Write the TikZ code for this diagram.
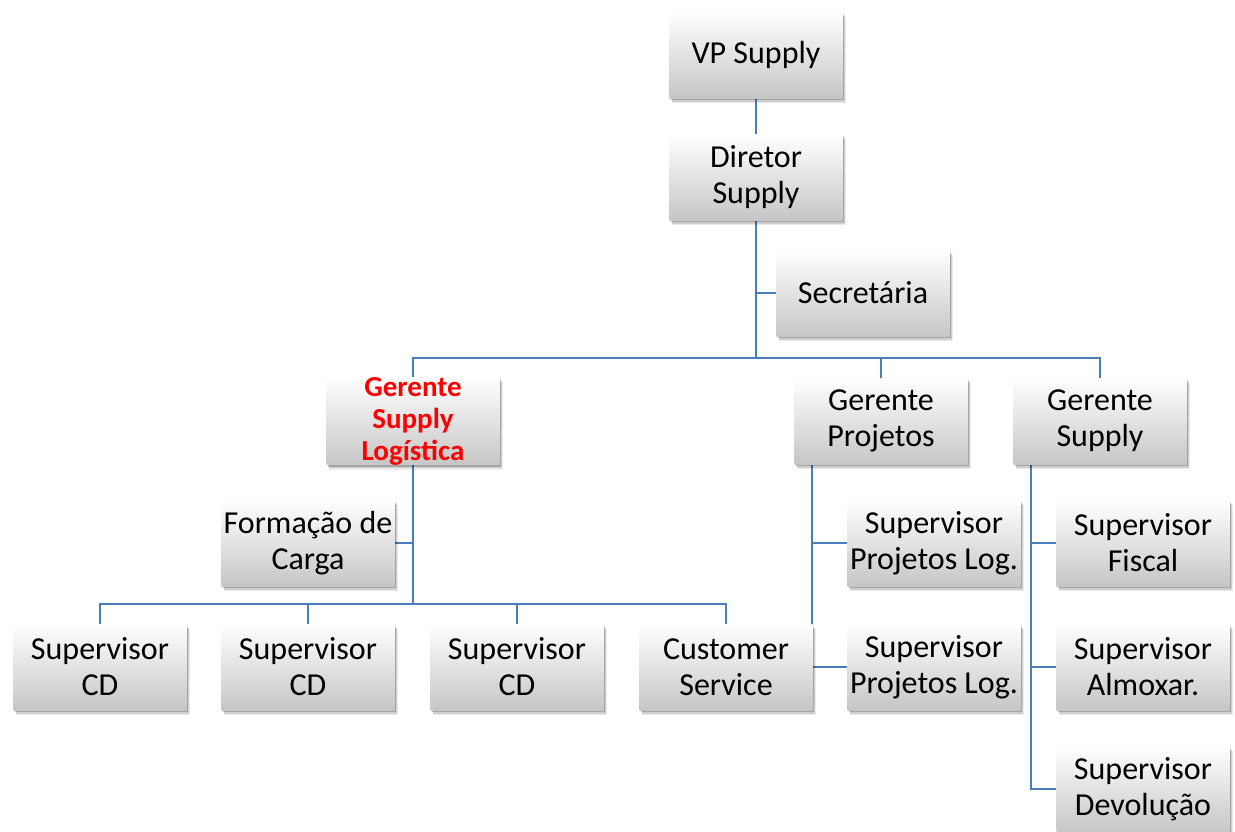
\documentclass[tikz,border=0pt]{standalone}
\usepackage{fontspec}
\setmainfont{Carlito}
\usetikzlibrary{shadows}
\pgfdeclarelayer{background}
\pgfsetlayers{background,main}
\definecolor{linkblue}{HTML}{4A7EBB}
\definecolor{boxgrey}{HTML}{C6C6C6}
\tikzset{
  orgbox/.style={rectangle, minimum width=173pt, minimum height=86pt, inner sep=0pt,
    top color=white, bottom color=boxgrey, align=center,
    font=\fontsize{32}{36}\selectfont,
    general shadow={shadow xshift=3pt, shadow yshift=-5pt, opacity=0.08, fill=black, shadow scale=1.01},
    general shadow={shadow xshift=2pt, shadow yshift=-3.5pt, opacity=0.12, fill=black},
    general shadow={shadow xshift=1.5pt, shadow yshift=-2pt, opacity=0.2, fill=black}},
  hilite/.style={text=red, font=\fontsize{29}{32}\selectfont\bfseries},
  link/.style={draw=linkblue, line width=1.8pt}
}
\begin{document}
\begin{tikzpicture}[x=1pt,y=-1pt]
\useasboundingbox (0,0) rectangle (1235,831);
\node[orgbox] (vp) at (756,55) {VP Supply};
\node[orgbox] (dir) at (756,177) {Diretor\\Supply};
\node[orgbox] (sec) at (863,293) {Secretária};
\node[orgbox, hilite] (glog) at (413,421) {Gerente\\Supply\\Logística};
\node[orgbox] (gproj) at (881,421) {Gerente\\Projetos};
\node[orgbox] (gsup) at (1100,421) {Gerente\\Supply};
\node[orgbox] (form) at (308,543) {Formação de\\Carga};
\node[orgbox] (sp1) at (934,543) {Supervisor\\Projetos Log.};
\node[orgbox] (sfis) at (1143,543) {Supervisor\\Fiscal};
\node[orgbox] (cd1) at (100,667) {Supervisor\\CD};
\node[orgbox] (cd2) at (308,667) {Supervisor\\CD};
\node[orgbox] (cd3) at (517,667) {Supervisor\\CD};
\node[orgbox] (cs) at (726,667) {Customer\\Service};
\node[orgbox] (sp2) at (934,667) {Supervisor\\Projetos Log.};
\node[orgbox] (salm) at (1143,667) {Supervisor\\Almoxar.};
\node[orgbox] (sdev) at (1143,789) {Supervisor\\Devolução};
\coordinate (bus1) at (756,358);
\coordinate (bus2) at (413,604);
\coordinate (pj) at (812,465);
\coordinate (sj) at (1031,465);
\begin{pgfonlayer}{background}
\draw[link] (vp) -- (dir);
\draw[link] (dir) -- (bus1);
\draw[link] (sec.west) -- (sec.west -| dir);
\draw[link] (glog.north) |- (bus1);
\draw[link] (gproj.north) |- (bus1);
\draw[link] (gsup.north) |- (bus1);
\draw[link] (glog) -- (bus2);
\draw[link] (form.east) -- (form.east -| glog);
\draw[link] (cd1.north) |- (bus2);
\draw[link] (cd2.north) |- (bus2);
\draw[link] (cd3.north) |- (bus2);
\draw[link] (cs.north) |- (bus2);
\draw[link] (pj) |- (sp1.west);
\draw[link] (pj) |- (sp2.west);
\draw[link] (sj) |- (sfis.west);
\draw[link] (sj) |- (salm.west);
\draw[link] (sj) |- (sdev.west);
\end{pgfonlayer}
\end{tikzpicture}
\end{document}
